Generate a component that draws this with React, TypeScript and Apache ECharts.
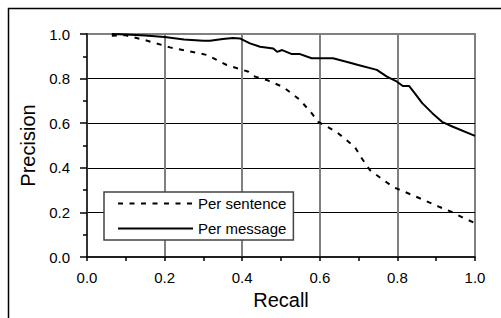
import React, { useEffect, useRef } from "react";
import * as echarts from "echarts";

const sentenceRecall = [0.064, 0.098, 0.149, 0.214, 0.257, 0.309, 0.36, 0.416, 0.433, 0.463, 0.506, 0.549, 0.579, 0.596, 0.643, 0.69, 0.708, 0.729, 0.764, 0.789, 0.85, 0.909, 0.94, 0.965, 1.0];
const sentencePrecision = [0.992, 0.995, 0.973, 0.94, 0.925, 0.906, 0.861, 0.831, 0.809, 0.794, 0.762, 0.704, 0.645, 0.606, 0.561, 0.494, 0.443, 0.39, 0.345, 0.314, 0.269, 0.224, 0.202, 0.18, 0.152];

const messageRecall = [0.064, 0.1, 0.15, 0.2, 0.25, 0.3, 0.317, 0.35, 0.376, 0.394, 0.42, 0.446, 0.48, 0.49, 0.503, 0.528, 0.549, 0.579, 0.634, 0.678, 0.699, 0.747, 0.773, 0.799, 0.814, 0.83, 0.845, 0.864, 0.89, 0.915, 0.943, 1.0];
const messagePrecision = [1.0, 0.998, 0.993, 0.987, 0.975, 0.97, 0.97, 0.978, 0.982, 0.98, 0.958, 0.943, 0.935, 0.92, 0.928, 0.91, 0.91, 0.891, 0.891, 0.871, 0.861, 0.839, 0.809, 0.786, 0.767, 0.767, 0.734, 0.69, 0.645, 0.606, 0.584, 0.543];

const seriesNames = ["Per sentence", "Per message"];
const xAxisName = "Recall";
const yAxisName = "Precision";

const FONT = "'Liberation Sans', Arial, sans-serif";

export default function App() {
  const ref = useRef<HTMLDivElement>(null);
  useEffect(() => {
    if (!ref.current) return;
    const chart = echarts.init(ref.current, null, { renderer: "svg" });
    const zip = (a: number[], b: number[]) => a.map((v, i) => [v, b[i]]);
    chart.setOption({
      animation: false,
      backgroundColor: "#fff",
      textStyle: { fontFamily: FONT, color: "#000" },
      grid: {
        left: 87,
        top: 34,
        right: 26,
        bottom: 61,
        show: true,
        borderColor: "#808080",
        borderWidth: 2,
        backgroundColor: "transparent",
      },
      graphic: [
        {
          type: "rect",
          shape: { x: 8.5, y: 8.5, width: 700, height: 500 },
          style: { fill: "none", stroke: "#000", lineWidth: 1.5 },
          z: -10,
        },
      ],
      xAxis: {
        type: "value",
        min: 0,
        max: 1,
        interval: 0.2,
        name: xAxisName,
        nameLocation: "middle",
        nameGap: 32,
        nameTextStyle: { fontSize: 20, color: "#000", fontFamily: FONT },
        axisLine: { show: true, onZero: false, lineStyle: { color: "#000", width: 1.5 } },
        axisTick: { show: true, length: 4, lineStyle: { color: "#000", width: 1.5 } },
        minorTick: { show: true, splitNumber: 2, length: 4, lineStyle: { color: "#000", width: 1.5 } },
        axisLabel: {
          fontSize: 15,
          color: "#000",
          margin: 13,
          fontFamily: FONT,
          formatter: (v: number) => v.toFixed(1),
        },
        splitLine: {
          show: true,
          showMinLine: false,
          showMaxLine: false,
          lineStyle: { color: "#808080", width: 2 },
        },
      },
      yAxis: {
        type: "value",
        min: 0,
        max: 1,
        interval: 0.2,
        name: yAxisName,
        nameLocation: "middle",
        nameGap: 48,
        nameRotate: 90,
        nameTextStyle: { fontSize: 20, color: "#000", fontFamily: FONT },
        axisLine: { show: true, onZero: false, lineStyle: { color: "#333", width: 2 } },
        axisTick: { show: true, length: 7, lineStyle: { color: "#000", width: 1.5 } },
        minorTick: { show: true, splitNumber: 2, length: 4, lineStyle: { color: "#000", width: 1.5 } },
        axisLabel: {
          fontSize: 15,
          color: "#000",
          margin: 17,
          fontFamily: FONT,
          formatter: (v: number) => v.toFixed(1),
        },
        splitLine: {
          show: true,
          showMinLine: false,
          showMaxLine: false,
          lineStyle: { color: "#000", width: 1 },
        },
      },
      legend: {
        show: true,
        orient: "vertical",
        left: 104,
        top: 192,
        backgroundColor: "#fff",
        borderColor: "#444",
        borderWidth: 1.5,
        borderRadius: 0,
        padding: [4, 7, 4, 13],
        itemGap: 10,
        itemWidth: 75,
        itemHeight: 14,
        itemStyle: { opacity: 0 },
        textStyle: { fontSize: 15, color: "#000", fontFamily: FONT },
        data: seriesNames,
      },
      series: [
        {
          name: seriesNames[0],
          type: "line",
          data: zip(sentenceRecall, sentencePrecision),
          showSymbol: false,
          symbol: "none",
          smooth: false,
          lineStyle: { color: "#000", width: 2, type: [5, 6.5] },
          itemStyle: { color: "#000" },
          z: 5,
        },
        {
          name: seriesNames[1],
          type: "line",
          data: zip(messageRecall, messagePrecision),
          showSymbol: false,
          symbol: "none",
          smooth: false,
          lineStyle: { color: "#000", width: 2, type: "solid" },
          itemStyle: { color: "#000" },
          z: 5,
        },
      ],
    });
    return () => chart.dispose();
  }, []);
  return (
    <div
      ref={ref}
      style={{ position: "fixed", left: 0, top: 0, width: 501, height: 318 }}
    />
  );
}
